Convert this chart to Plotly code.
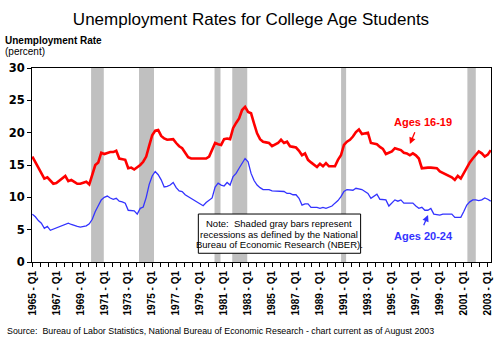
import plotly.graph_objects as go

# ---------------- data ----------------
start_year = 1965  # first observation: 1965 Q1, quarterly through 2003 Q2
ages_16_19 = [
    16.3, 15.5, 14.6, 13.7,   # 1965
    12.9, 13.1, 12.6, 12.1,   # 1966
    12.2, 12.6, 12.9, 13.3,   # 1967
    12.5, 12.7, 12.4, 12.1,   # 1968
    12.1, 12.2, 12.4, 12.0,   # 1969
    13.5, 15.0, 15.4, 16.9,   # 1970
    16.7, 16.9, 17.0, 17.0,   # 1971
    17.2, 16.0, 15.9, 15.8,   # 1972
    14.5, 14.6, 14.3, 14.6,   # 1973
    15.0, 15.5, 16.3, 18.0,   # 1974
    19.6, 20.3, 20.4, 19.5,   # 1975
    19.1, 18.9, 19.0, 19.0,   # 1976
    18.4, 17.9, 17.6, 16.8,   # 1977
    16.2, 16.0, 16.0, 16.0,   # 1978
    16.0, 16.1, 16.0, 16.3,   # 1979
    17.3, 18.4, 18.2, 18.1,   # 1980
    19.0, 19.1, 19.0, 20.7,   # 1981
    21.5, 22.2, 23.5, 24.0,   # 1982
    23.2, 23.0, 21.4, 19.9,   # 1983
    19.0, 18.6, 18.5, 18.4,   # 1984
    17.9, 18.2, 18.4, 18.9,   # 1985
    18.4, 18.6, 17.9, 17.8,   # 1986
    17.7, 17.2, 16.5, 16.8,   # 1987
    15.8, 15.4, 15.0, 14.7,   # 1988
    15.2, 14.8, 15.3, 14.8,   # 1989
    14.8, 14.8, 15.8, 16.5,   # 1990
    18.1, 18.6, 18.9, 19.4,   # 1991
    20.1, 20.5, 19.8, 19.9,   # 1992
    20.0, 18.4, 18.3, 18.2,   # 1993
    17.8, 17.5, 16.7, 16.9,   # 1994
    17.1, 17.6, 17.5, 17.3,   # 1995
    16.9, 16.8, 16.5, 16.8,   # 1996
    16.5, 16.0, 14.5, 14.6,   # 1997
    14.6, 14.6, 14.5, 14.5,   # 1998
    14.0, 13.8, 13.6, 13.3,   # 1999
    13.1, 12.7, 13.3, 12.9,   # 2000
    13.7, 14.7, 15.4, 16.0,   # 2001
    16.5, 17.1, 16.8, 16.3,   # 2002
    16.6, 17.3,               # 2003
]
ages_20_24 = [
    7.4, 7.0, 6.4, 6.0,       # 1965
    5.2, 5.5, 4.9, 5.1,       # 1966
    5.3, 5.5, 5.6, 5.8,       # 1967
    6.0, 5.8, 5.6, 5.5,       # 1968
    5.4, 5.5, 5.6, 5.9,       # 1969
    6.6, 7.8, 8.7, 9.6,       # 1970
    10.0, 10.2, 9.9, 9.7,     # 1971
    9.85, 9.4, 9.3, 9.1,      # 1972
    8.0, 7.9, 7.9, 7.4,       # 1973
    8.3, 8.5, 10.0, 12.0,     # 1974
    13.3, 14.0, 13.5, 12.7,   # 1975
    11.6, 11.7, 11.9, 12.3,   # 1976
    11.5, 11.0, 10.9, 10.4,   # 1977
    10.1, 9.8, 9.5, 9.3,      # 1978
    8.9, 8.7, 9.2, 9.5,       # 1979
    9.9, 11.6, 12.2, 11.9,    # 1980
    11.75, 12.3, 11.9, 13.2,  # 1981
    13.7, 14.5, 15.3, 16.0,   # 1982
    15.5, 13.7, 12.6, 11.9,   # 1983
    11.5, 11.2, 11.2, 11.2,   # 1984
    11.0, 11.0, 10.9, 10.9,   # 1985
    10.9, 10.6, 10.6, 10.4,   # 1986
    10.4, 9.85, 8.8, 9.0,     # 1987
    9.0, 8.45, 8.5, 8.45,     # 1988
    8.3, 8.45, 8.3, 8.5,      # 1989
    8.65, 9.1, 9.5, 10.1,     # 1990
    10.9, 11.2, 11.1, 11.1,   # 1991
    11.4, 11.3, 11.2, 10.9,   # 1992
    10.6, 9.85, 10.2, 10.5,   # 1993
    9.7, 9.6, 9.6, 8.65,      # 1994
    9.1, 9.6, 9.4, 9.6,       # 1995
    9.1, 9.1, 9.0, 9.1,       # 1996
    8.65, 8.3, 8.45, 8.0,     # 1997
    8.0, 8.3, 7.4, 7.3,       # 1998
    7.25, 7.4, 7.4, 7.4,      # 1999
    7.4, 6.9, 6.9, 6.9,       # 2000
    7.8, 8.8, 9.3, 9.6,       # 2001
    9.6, 9.5, 9.6, 9.9,       # 2002
    9.7, 9.4,                 # 2003
]
recession_start = [1969.9, 1973.9, 1980.2, 1981.68, 1990.76, 2001.3]
recession_end = [1970.96, 1975.15, 1980.7, 1982.93, 1991.18, 2002.0]
label_years = list(range(1965, 2004, 2))
y_ticks = [0, 5, 10, 15, 20, 25, 30]

# ---------------- build ----------------
t = [start_year + i / 4 for i in range(len(ages_16_19))]

FONT = "Arial, 'Liberation Sans', sans-serif"
RED = "#ff0000"
BLUE = "#3333ff"

fig = go.Figure()
fig.add_trace(go.Scatter(x=t, y=ages_16_19, mode="lines",
                         line=dict(color=RED, width=2.6), showlegend=False,
                         name="Ages 16-19"))
fig.add_trace(go.Scatter(x=t[:len(ages_20_24)], y=ages_20_24, mode="lines",
                         line=dict(color=BLUE, width=1.3), showlegend=False,
                         name="Ages 20-24"))

for s, e in zip(recession_start, recession_end):
    fig.add_shape(type="rect", xref="x", yref="y", x0=s, x1=e, y0=0, y1=30,
                  fillcolor="#c0c0c0", line=dict(width=0), layer="below")

# tick positions: every 2/3 year, labels every 2 years
tickvals, ticktext = [], []
for k in range(0, 58):
    tickvals.append(1965 + k * 2 / 3)
    if k % 3 == 0:
        ticktext.append(f"{1965 + 2 * (k // 3)} - Q1")
    else:
        ticktext.append("")

fig.update_xaxes(range=[1964.97, 2003.27], tickmode="array", tickvals=tickvals,
                 ticktext=ticktext, tickangle=-90, ticks="outside", ticklen=4,
                 tickcolor="black", showline=True, linecolor="black",
                 linewidth=1, mirror=True, showgrid=False, zeroline=False,
                 tickfont=dict(family=FONT, size=10, color="black", weight="bold"))
fig.update_yaxes(range=[0, 30], tickmode="array", tickvals=y_ticks,
                 ticks="outside", ticklen=4, tickcolor="black", showline=True,
                 linecolor="black", linewidth=1, mirror=True, showgrid=False,
                 zeroline=False,
                 tickfont=dict(family="'DejaVu Sans', sans-serif", size=11.5,
                               color="black", weight="bold"))

# note box
fig.add_shape(type="rect", xref="x", yref="y", x0=1978.85, x1=1992.39,
              y0=1.35, y1=7.42, fillcolor="white",
              line=dict(color="black", width=1), layer="above")
note_lines = ["Note:  Shaded gray bars represent",
              "recessions as defined by the National",
              "Bureau of Economic Research (NBER)."]
note_y = [5.98, 4.33, 2.63]
for txt, yy in zip(note_lines, note_y):
    fig.add_annotation(x=1985.62, y=yy, xref="x", yref="y", text=txt,
                       showarrow=False, xanchor="center", yanchor="middle",
                       font=dict(family=FONT, size=9.5, color="black"))

# series labels with arrows
fig.add_annotation(x=1997.6, y=21.6, xref="x", yref="y", text="<b>Ages 16-19</b>",
                   showarrow=False, font=dict(family=FONT, size=11, color=RED))
fig.add_annotation(x=1996.5, y=18.25, xref="x", yref="y", text="",
                   showarrow=True, ax=5.6, ay=-13.3, arrowcolor=RED,
                   arrowwidth=1.3, arrowhead=2, arrowsize=1)
fig.add_annotation(x=1997.6, y=4.0, xref="x", yref="y", text="<b>Ages 20-24</b>",
                   showarrow=False, font=dict(family=FONT, size=11, color=BLUE))
fig.add_annotation(x=1998.02, y=7.27, xref="x", yref="y", text="",
                   showarrow=True, ax=-5, ay=11.7, arrowcolor=BLUE,
                   arrowwidth=1.3, arrowhead=2, arrowsize=1)

# axis titles / source
fig.add_annotation(x=-0.063, y=1.144, xref="paper", yref="paper",
                   text="<b>Unemployment Rate</b>", showarrow=False,
                   xanchor="left", yanchor="middle",
                   font=dict(family=FONT, size=10, color="black"))
fig.add_annotation(x=-0.063, y=1.085, xref="paper", yref="paper",
                   text="(percent)", showarrow=False,
                   xanchor="left", yanchor="middle",
                   font=dict(family=FONT, size=10, color="black"))
fig.add_annotation(x=-0.0586, y=-0.356, xref="paper", yref="paper",
                   text="Source:  Bureau of Labor Statistics, National Bureau of Economic Research - chart current as of August 2003",
                   showarrow=False, xanchor="left", yanchor="middle",
                   font=dict(family=FONT, size=8.85, color="black"))

fig.update_layout(
    width=500, height=340,
    margin=dict(l=32, r=7, t=68, b=78),
    paper_bgcolor="white", plot_bgcolor="white",
    title=dict(text="Unemployment Rates for College Age Students",
               x=0.502, xanchor="center", y=1 - 19.5 / 340, yanchor="middle",
               font=dict(family=FONT, size=17, color="black")),
)

fig.write_html("out.html")
